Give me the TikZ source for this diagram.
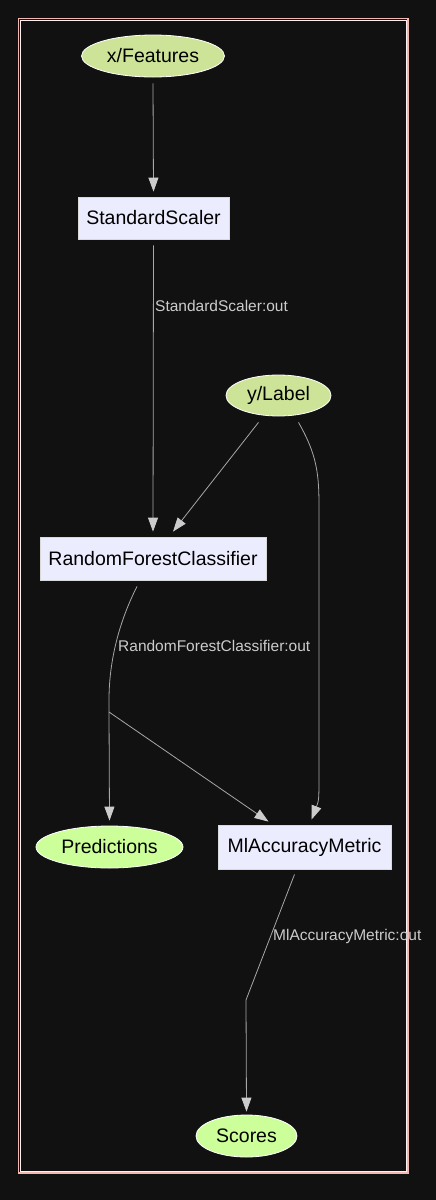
\documentclass[tikz,border=0pt]{standalone}
\usepackage{fontspec}
\setmainfont{Liberation Sans}
\usetikzlibrary{shapes.geometric,arrows.meta}

\definecolor{bgcol}{HTML}{111111}
\definecolor{framecol}{HTML}{F2B8B4}
\definecolor{datacol}{HTML}{CDE498}
\definecolor{outcol}{HTML}{CCFF99}
\definecolor{stepcol}{HTML}{ECECFF}
\definecolor{linecol}{HTML}{A8A8A8}
\definecolor{tipcol}{HTML}{CCCCCC}

\begin{document}
\begin{tikzpicture}[x=1pt,y=-1pt,
    data/.style={ellipse, draw=white, line width=0.8pt, fill=datacol, inner sep=0pt,
        font=\fontsize{19.5}{19.5}\selectfont, text=black},
    result/.style={data, fill=outcol},
    stepbox/.style={rectangle, draw=white!85!black, line width=0.8pt, fill=stepcol, inner sep=0pt,
        font=\fontsize{19.5}{19.5}\selectfont, text=black},
    flow/.style={draw=linecol, line width=0.8pt, -{Triangle[length=14pt,width=10pt,fill=tipcol,color=tipcol]}},
    plain/.style={draw=linecol, line width=0.8pt},
    lbl/.style={anchor=west, inner sep=0pt, text=tipcol, font=\fontsize{15.5}{15.5}\selectfont}]

    \fill[bgcol] (0,0) rectangle (436,1200);
    \useasboundingbox (0,0) rectangle (436,1200);
    \draw[framecol, line width=1.6pt] (18.5,18.5) rectangle (408,1173);
    \draw[white!80!framecol, line width=0.5pt] (20,20) rectangle (406.5,1171.5);

    \node[data, minimum width=143pt, minimum height=42pt] (xf) at (153,56) {x/Features};
    \node[stepbox, minimum width=151pt, minimum height=42pt] (ss) at (153.5,218) {StandardScaler};
    \node[data, minimum width=105pt, minimum height=41pt] (yl) at (278.5,395.5) {y/Label};
    \node[stepbox, minimum width=226pt, minimum height=43pt] (rfc) at (153,558.5) {RandomForestClassifier};
    \node[result, minimum width=147pt, minimum height=42pt] (pred) at (109.5,847) {Predictions};
    \node[stepbox, minimum width=173pt, minimum height=44pt] (mam) at (304.5,847) {MlAccuracyMetric};
    \node[result, minimum width=101pt, minimum height=42pt] (sc) at (246.5,1136) {Scores};

    \coordinate (J) at (109,712);
    \coordinate (K) at (246,1000);

    \draw[flow] ([yshift=-6pt]xf.south) to ([yshift=5pt]ss.north);
    \draw[flow] ([yshift=-6pt]ss.south) to ([yshift=5pt]rfc.north);
    \draw[flow] ([xshift=-20pt,yshift=-6pt]yl.south) to ([xshift=20pt,yshift=5pt]rfc.north);
    \draw[flow] ([xshift=20pt,yshift=-6pt]yl.south) .. controls (320,460) and (319,480) .. (319,520)
        -- (319,770) .. controls (319,800) .. ([xshift=7pt,yshift=5pt]mam.north);
    \draw[plain] ([xshift=-16pt,yshift=-6pt]rfc.south) .. controls (115,630) and (109,670) .. (109,700) -- (J);
    \draw[flow] (J) to ([yshift=5pt]pred.north);
    \draw[flow] (J) to ([xshift=-36pt,yshift=3pt]mam.north);
    \draw[plain] ([xshift=-10pt,yshift=-5pt]mam.south) -- (K);
    \draw[flow] (K) to ([yshift=3pt]sc.north);

    \node[lbl] (l1) at (155,306) {StandardScaler:out};
    \node[lbl] (l2) at (118,646) {RandomForestClassifier:out};
    \node[lbl] (l3) at (273,936) {MlAccuracyMetric:out};
\end{tikzpicture}
\end{document}
